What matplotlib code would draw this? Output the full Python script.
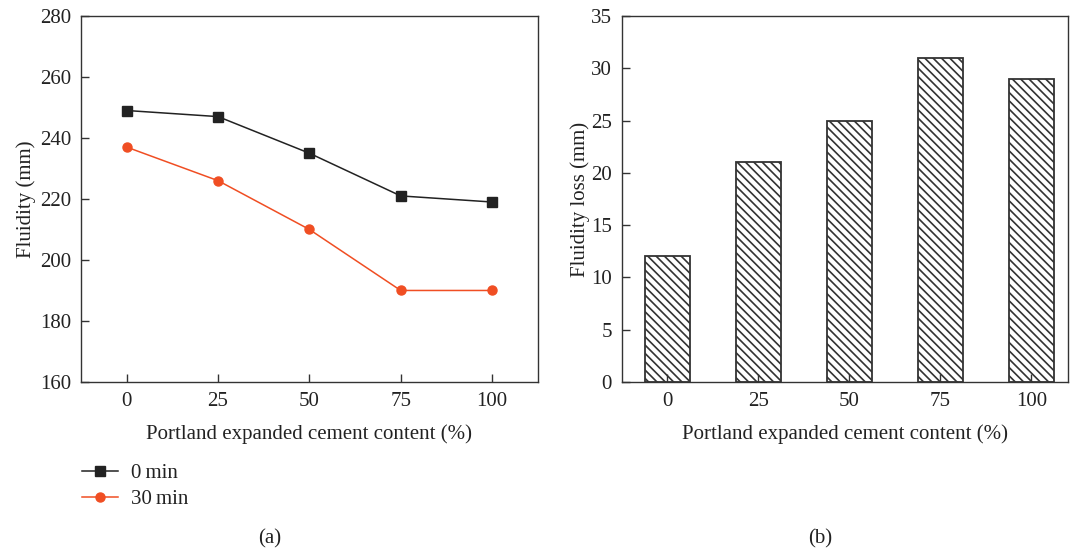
import matplotlib
matplotlib.use("Agg")
import matplotlib.pyplot as plt
import numpy as np

plt.rcParams['font.family'] = ['Liberation Serif', 'DejaVu Serif']
plt.rcParams['hatch.linewidth'] = 1.2
plt.rcParams['hatch.color'] = '#222222'

content = [0, 25, 50, 75, 100]
fluidity_0min = [249, 247, 235, 221, 219]
fluidity_30min = [237, 226, 210, 190, 190]
fluidity_loss = [12, 21, 25, 31, 29]
content_labels = ['0', '25', '50', '75', '100']

fig = plt.figure(figsize=(10.72, 5.5), dpi=100)
ax1 = fig.add_axes([0.0756, 0.3055, 0.426, 0.6655])
ax2 = fig.add_axes([0.580, 0.3055, 0.416, 0.6655])

spine_col = '#333333'
fs = 15

l0, = ax1.plot(content, fluidity_0min, color='#222222', lw=1.1, marker='s', ms=6.5, label='0\u2009min')
l1, = ax1.plot(content, fluidity_30min, color='#f04e23', lw=1.1, marker='o', ms=6.5, label='30\u2009min')
ax1.set_xlim(-12.5, 112.5)
ax1.set_ylim(160, 280)
ax1.set_xticks(content)
ax1.set_xticklabels(content_labels)
ax1.set_yticks(np.arange(160, 281, 20))
ax1.set_ylabel('Fluidity (mm)', fontsize=fs, labelpad=3)
ax1.set_xlabel('Portland expanded cement content (%)', fontsize=fs, labelpad=10)

xpos = np.arange(len(content))
ax2.bar(xpos, fluidity_loss, width=0.5, facecolor='white', edgecolor='#333333',
        lw=1.3, hatch='\\\\\\\\')
ax2.set_xlim(-0.5, 4.4)
ax2.set_ylim(0, 35)
ax2.set_xticks(xpos)
ax2.set_xticklabels(content_labels)
ax2.set_yticks(np.arange(0, 36, 5))
ax2.set_ylabel('Fluidity loss (mm)', fontsize=fs, labelpad=1)
ax2.set_xlabel('Portland expanded cement content (%)', fontsize=fs, labelpad=10)

for ax in (ax1, ax2):
    for s in ax.spines.values():
        s.set_color(spine_col)
        s.set_linewidth(1.0)
    ax.tick_params(direction='in', length=6, width=1.0, color=spine_col,
                   labelsize=fs, labelcolor='#222222', pad=7)
    ax.xaxis.label.set_color('#222222')
    ax.yaxis.label.set_color('#222222')

fig.legend(handles=[l0, l1], loc='upper left', bbox_to_anchor=(0.0765, 0.157),
           frameon=False, fontsize=fs, handlelength=1.75, handletextpad=0.6,
           labelspacing=0.3, labelcolor='#222222', borderaxespad=0, borderpad=0)

fig.text(0.252, 0.012, '(a)', fontsize=fs, ha='center', color='#222222')
fig.text(0.765, 0.012, '(b)', fontsize=fs, ha='center', color='#222222')

fig.savefig('out.png', dpi=100)
